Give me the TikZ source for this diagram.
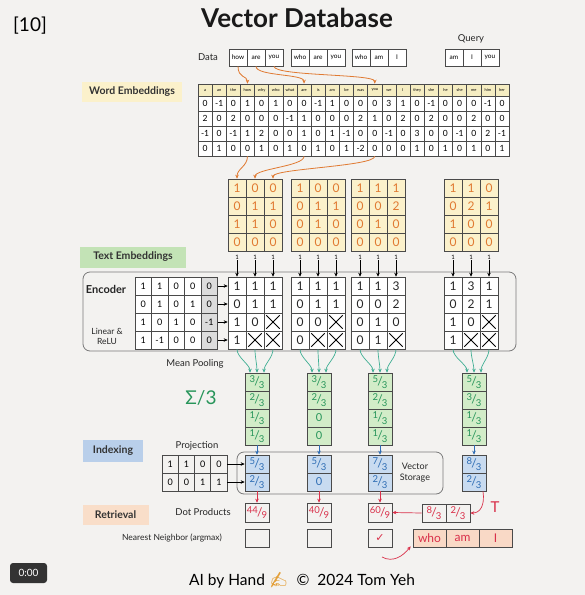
\documentclass[tikz,border=0pt]{standalone}
\usepackage{fontspec}
\setmainfont{Lato}
\newfontfamily\symf{DejaVu Sans}
\newfontfamily\emojif{Noto Emoji}
\usetikzlibrary{arrows.meta,calc}
\definecolor{paper}{HTML}{F3F2F0}
\definecolor{ora}{HTML}{E07A32}
\definecolor{yelf}{HTML}{FBF1CB}
\definecolor{hdrf}{HTML}{F5EDC2}
\definecolor{grn}{HTML}{27955A}
\definecolor{grnf}{HTML}{D2ECC8}
\definecolor{tealc}{HTML}{3FAE93}
\definecolor{txtembf}{HTML}{C3E3B6}
\definecolor{blu}{HTML}{2E6DB4}
\definecolor{bluf}{HTML}{C8DBF0}
\definecolor{idxf}{HTML}{B9CFEA}
\definecolor{rdc}{HTML}{D9304A}
\definecolor{retf}{HTML}{F9DEC9}
\definecolor{resf}{HTML}{F9D9C6}
\definecolor{gridc}{HTML}{4A4A4A}
\definecolor{boxc}{HTML}{7A7A7A}
\definecolor{biasf}{HTML}{DCDCDC}
\newcommand{\fr}[2]{\raisebox{0.3em}{\fontsize{9.5}{9.5}\selectfont #1}\kern-0.08em{\fontsize{12}{12}\selectfont /}\kern-0.08em\raisebox{-0.2em}{\fontsize{9.5}{9.5}\selectfont #2}}
\newcommand{\mkmat}[8]{%
  \foreach \v [count=\i from 0] in {#8} {%
    \pgfmathtruncatemacro\rr{int(\i/#4)+1}%
    \pgfmathtruncatemacro\cc{mod(\i,#4)+1}%
    \node[#7, minimum width=#5pt, minimum height=#6pt] (#1-\rr-\cc) at ({#2+(\cc-0.5)*#5},{#3+(\rr-0.5)*#6}) {\v};
  }}
\newcommand{\crs}[1]{\draw[xm] ($(#1.north west)!0.14!(#1.south east)$) -- ($(#1.north west)!0.86!(#1.south east)$) ($(#1.north east)!0.14!(#1.south west)$) -- ($(#1.north east)!0.86!(#1.south west)$);}
\begin{document}
\begin{tikzpicture}[x=1pt,y=-1pt,
  cellbase/.style={draw=gridc,line width=0.6pt,inner sep=0pt,anchor=center},
  hcell/.style={cellbase,fill=hdrf,minimum width=14.14pt,minimum height=12pt,font=\fontsize{4}{4}\selectfont},
  tcell/.style={cellbase,fill=white,minimum width=14.14pt,minimum height=15pt,font=\fontsize{8.5}{8.5}\selectfont},
  dcell/.style={cellbase,fill=white,minimum width=18pt,minimum height=17pt,font=\fontsize{6.5}{6.5}\selectfont},
  omat/.style={cellbase,fill=yelf,text=ora,font=\fontsize{12}{12}\selectfont},
  kmat/.style={cellbase,fill=white,text=black!85,font=\fontsize{12}{12}\selectfont},
  emat/.style={cellbase,font=\fontsize{9}{9}\selectfont},
  mvec/.style={cellbase,fill=grnf,text=grn,font=\fontsize{11}{11}\selectfont},
  pvec/.style={cellbase,fill=bluf,text=blu,font=\fontsize{11}{11}\selectfont},
  rbox/.style={cellbase,text=rdc,font=\fontsize{11}{11}\selectfont},
  tag/.style={inner sep=0pt,font=\fontsize{10.5}{10.5}\selectfont\bfseries,text=black!80},
  lab/.style={font=\fontsize{9.5}{9.5}\selectfont,text=black!85},
  one/.style={font=\fontsize{6}{6}\selectfont,inner sep=0pt},
  tipp/.style={-{Stealth[length=4pt,width=3.5pt]}},
  oarr/.style={draw=ora,line width=0.8pt,tipp},
  karr/.style={draw=black,line width=0.6pt,tipp},
  tarr/.style={draw=tealc,line width=0.7pt,tipp},
  barr/.style={draw=blu,line width=0.7pt,tipp},
  rarr/.style={draw=rdc,line width=0.7pt,tipp},
  xm/.style={draw=black,line width=1pt},
  rnd/.style={draw=boxc,line width=0.8pt,rounded corners=7pt}
]
\useasboundingbox (0,0) rectangle (585,595);
\fill[paper] (0,0) rectangle (585,595);

% title
\node[font=\fontsize{26}{26}\selectfont\bfseries,text=black!90] (title) at (297,18) {Vector Database};
\node[font=\fontsize{19}{19}\selectfont] (num) at (30,26) {[10]};

% data
\node[lab] (datalbl) at (208,57) {Data};
\node[lab] (querylbl) at (471,39) {Query};
\mkmat{d1}{229}{49}{3}{18}{17}{dcell}{how,are,you}
\mkmat{d2}{291}{49}{3}{18}{17}{dcell}{who,are,you}
\mkmat{d3}{352}{49}{3}{18}{17}{dcell}{who,am,I}
\mkmat{q}{445}{49}{3}{18}{17}{dcell}{am,I,you}

% word embeddings
\node[tag,fill=yelf,minimum width=100pt,minimum height=20pt] (wetag) at (132,91.5) {Word Embeddings};
\foreach \w [count=\c] in {a,an,the,how,why,who,what,are,is,am,be,was,you,we,I,they,she,he,she,me,him,her}
  \node[hcell] (h\c) at ({198+(\c-0.5)*14.14},90) {\w};
\foreach \row [count=\r] in {{0,-1,0,1,0,1,0,0,-1,1,0,0,0,3,1,0,-1,0,0,0,-1,0},{2,0,2,0,0,0,-1,1,0,0,0,2,1,0,2,0,2,0,0,2,0,0},{-1,0,-1,1,2,0,0,1,0,1,-1,0,0,-1,0,3,0,0,-1,0,2,-1},{0,1,0,0,1,0,1,0,1,0,1,-2,0,0,0,1,0,1,0,1,0,1}} {
  \foreach \v [count=\c] in \row
    \node[tcell] (t\r-\c) at ({198+(\c-0.5)*14.14},{96+(\r-0.5)*15}) {\v};
}

% embedding matrices
\mkmat{emb1}{228}{179}{3}{18}{18}{omat}{1,0,0,0,1,1,1,1,0,0,0,0}
\mkmat{emb2}{291}{179}{3}{18}{18}{omat}{1,0,0,0,1,1,0,1,0,0,0,0}
\mkmat{emb3}{351}{179}{3}{18}{18}{omat}{1,1,1,0,0,2,0,1,0,0,0,0}
\mkmat{emb4}{444}{179}{3}{18}{18}{omat}{1,1,0,0,2,1,1,0,0,0,0,0}

\draw[oarr] (d1-1-1.south) .. controls +(0,12) and +(0,-8) .. (h4.north);
\draw[oarr] (d1-1-2.south) .. controls +(0,10) and +(0,-10) .. (h8.north);
\draw[oarr] (d1-1-3.south) .. controls +(0,10) and +(0,-10) .. (h13.north);
\draw[oarr] (t4-4.south) .. controls +(0,10) and +(0,-10) .. (emb1-1-1.north);
\draw[oarr] (t4-8.south) .. controls +(0,10) and +(0,-10) .. (emb1-1-2.north);
\draw[oarr] (t4-13.south) .. controls +(0,10) and +(0,-10) .. (emb1-1-3.north);

% text embeddings
\node[tag,fill=txtembf,minimum width=106pt,minimum height=21pt] (tetag) at (133,257) {Text Embeddings};
\draw[rnd] (83,272) rectangle (516,351);
\node[font=\fontsize{11}{11}\selectfont\bfseries,text=black!85] (enclbl) at (106,289) {Encoder};
\node[align=center,font=\fontsize{8.5}{10}\selectfont,text=black!85] (lrlbl) at (107,336) {Linear \&\\ReLU};
\fill[white] (135,277) rectangle (201,349);
\fill[biasf] (201,277) rectangle (217.5,349);
\mkmat{enc}{135}{277}{5}{16.5}{18}{emat}{1,1,0,0,0,0,1,0,1,0,1,0,1,0,-1,1,-1,0,0,0}

\mkmat{out1}{228}{277}{3}{18}{18}{kmat}{1,1,1,0,1,1,1,0,{},1,{},{}}
\mkmat{out2}{291}{277}{3}{18}{18}{kmat}{1,1,1,0,1,1,0,0,{},0,{},{}}
\mkmat{out3}{351}{277}{3}{18}{18}{kmat}{1,1,3,0,0,2,0,1,0,0,1,{}}
\mkmat{out4}{444}{277}{3}{18}{18}{kmat}{1,3,1,0,2,1,1,0,{},1,{},{}}
\crs{out1-3-3}\crs{out1-4-2}\crs{out1-4-3}
\crs{out2-3-3}\crs{out2-4-2}\crs{out2-4-3}
\crs{out3-4-3}
\crs{out4-3-3}\crs{out4-4-2}\crs{out4-4-3}
\foreach \r in {1,...,4}
  \draw[karr] (enc-\r-5.east) -- (out1-\r-1.west);
\foreach \m in {1,...,4}
  \foreach \c in {1,2,3} {
    \node[one] (one\m-\c) at ($(out\m-1-\c.north)+(0,-19)$) {1};
    \draw[karr] (one\m-\c.south) -- (out\m-1-\c.north);
  }

% mean pooling
\node[lab] (mplbl) at (195,364) {Mean Pooling};
\node[text=grn,font=\fontsize{19}{19}\selectfont] (sigma) at (201,398) {Σ/3};
\mkmat{mv1}{245}{373}{1}{24}{18}{mvec}{{\fr{3}{3}},{\fr{2}{3}},{\fr{1}{3}},{\fr{1}{3}}}
\mkmat{mv2}{307}{373}{1}{24}{18}{mvec}{{\fr{3}{3}},{\fr{2}{3}},0,0}
\mkmat{mv3}{368}{373}{1}{24}{18}{mvec}{{\fr{5}{3}},{\fr{2}{3}},{\fr{1}{3}},{\fr{1}{3}}}
\mkmat{mv4}{462}{373}{1}{24}{18}{mvec}{{\fr{5}{3}},{\fr{3}{3}},{\fr{1}{3}},{\fr{1}{3}}}
\foreach \m in {1,...,4}
  \foreach \c/\dx in {1/-7,2/0,3/7}
    \draw[tarr] (out\m-4-\c.south) .. controls +(0,8) and +(0,-8) .. ([xshift=\dx pt]mv\m-1-1.north);

% indexing
\node[tag,fill=idxf,minimum width=60pt,minimum height=22pt] (idxtag) at (113,451) {Indexing};
\node[lab] (prjlbl) at (197,446) {Projection};
\mkmat{prj}{162}{455}{4}{16.25}{18}{emat}{1,1,0,0,0,0,1,1}
\draw[rnd] (237,452) rectangle (443,494);
\node[lab,align=center,font=\fontsize{9}{11}\selectfont] (vslbl) at (415,473) {Vector\\Storage};
\mkmat{pv1}{245}{455}{1}{24}{18}{pvec}{{\fr{5}{3}},{\fr{2}{3}}}
\mkmat{pv2}{307}{455}{1}{24}{18}{pvec}{{\fr{5}{3}},0}
\mkmat{pv3}{368}{455}{1}{24}{18}{pvec}{{\fr{7}{3}},{\fr{2}{3}}}
\mkmat{pv4}{462}{455}{1}{24}{18}{pvec}{{\fr{8}{3}},{\fr{2}{3}}}
\foreach \r in {1,2}
  \draw[karr] (prj-\r-4.east) -- (pv1-\r-1.west);
\foreach \m in {1,...,4}
  \draw[barr] (mv\m-4-1.south) -- (pv\m-1-1.north);

% retrieval
\node[tag,fill=retf,minimum width=66pt,minimum height=20pt] (rettag) at (115.5,515) {Retrieval};
\node[lab] (dplbl) at (203,512) {Dot Products};
\node[lab,font=\fontsize{8.5}{8.5}\selectfont] (nnlbl) at (172,538) {Nearest Neighbor (argmax)};
\node[rbox,minimum width=24pt,minimum height=19pt] (dp1) at (257,512.5) {\fr{44}{9}};
\node[rbox,minimum width=24pt,minimum height=19pt] (dp2) at (319,512.5) {\fr{40}{9}};
\node[rbox,minimum width=24pt,minimum height=19pt] (dp3) at (380,512.5) {\fr{60}{9}};
\foreach \m in {1,2,3}
  \draw[rarr] (pv\m-2-1.south) -- (dp\m.north);
\node[rbox,minimum width=24pt,minimum height=18pt] (tq1) at (434,513) {\fr{8}{3}};
\node[rbox,minimum width=24pt,minimum height=18pt] (tq2) at (458,513) {\fr{2}{3}};
\node[text=rdc,font=\fontsize{15}{15}\selectfont] (tlbl) at (495,507) {T};
\draw[rarr] ([xshift=9pt]pv4-2-1.south) .. controls +(2,14) and +(10,0) .. (tq2.east);
\draw[rarr] (tq1.west) -- (dp3.east);
\node[rbox,minimum width=24pt,minimum height=18pt] (nn1) at (257,538) {};
\node[rbox,minimum width=24pt,minimum height=18pt] (nn2) at (319,538) {};
\node[rbox,minimum width=24pt,minimum height=18pt] (nn3) at (380,538) {\symf ✓};
\node[rbox,fill=resf,minimum width=33pt,minimum height=18pt,font=\fontsize{12}{12}\selectfont] (res1) at (429.5,538) {who};
\node[rbox,fill=resf,minimum width=33pt,minimum height=18pt,font=\fontsize{12}{12}\selectfont] (res2) at (462.5,538) {am};
\node[rbox,fill=resf,minimum width=33pt,minimum height=18pt,font=\fontsize{12}{12}\selectfont] (res3) at (495.5,538) {I};
\coordinate (cst) at (382,557);
\draw[rarr] (cst) .. controls (393,563) and (403,556) .. ([xshift=-2pt,yshift=1pt]res1.south west);

% footer
\node[font=\fontsize{15.5}{15.5}\selectfont] (foot) at (302,580) {AI by Hand {\emojif\color[HTML]{E3A03A}✍}\ \ ©\ \ 2024 Tom Yeh};
\node[fill=black!80,rounded corners=3pt,text=white,font=\fontsize{10}{10}\selectfont,minimum width=37pt,minimum height=20pt,inner sep=0pt] (time) at (28.5,573) {0:00};
\end{tikzpicture}
\end{document}
